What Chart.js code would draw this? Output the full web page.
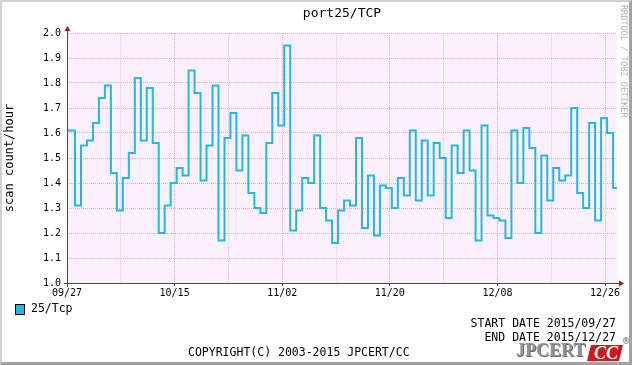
<!DOCTYPE html>
<html>
<head>
<meta charset="utf-8">
<script src="https://cdn.jsdelivr.net/npm/chart.js@4.4.1/dist/chart.umd.min.js"></script>
<style>
  html, body { margin: 0; padding: 0; background: #fff; }
  #wrap { position: relative; width: 632px; height: 365px; overflow: hidden; font-family: "DejaVu Sans Mono", monospace; }
  #box { position: absolute; left: 0; top: 0; width: 632px; height: 365px; }
  #frame { position: absolute; left: 0; top: 0; width: 632px; height: 365px; box-sizing: border-box;
           border-top: 2px solid #d0d0d0; border-left: 2px solid #d0d0d0;
           border-right: 3px solid #a2a2a2; border-bottom: 3px solid #a2a2a2; pointer-events: none; }
  .txt { position: absolute; font-size: 11.5px; line-height: 14px; color: #000; white-space: pre; }
  #legSwatch { position: absolute; left: 15px; top: 304px; width: 8px; height: 9px; background: #21b9df; border: 1px solid #000; }
  #rrd { position: absolute; left: 619px; top: 5px; writing-mode: vertical-rl; font-size: 8.5px; color: #b4b4b4; white-space: pre; }
  #jp { position: absolute; left: 516px; top: 340px; font-family: "Liberation Serif", serif; font-weight: bold; font-size: 18px;
        line-height: 20px; color: #959595; text-shadow: 1px 1px 0 #6a6a6a; }
  #cc { position: absolute; left: 589px; top: 345px; width: 32px; height: 16px; background: #d3161c; transform: skewX(-14deg); }
  #ccText { position: absolute; left: 590px; top: 343px; width: 32px; text-align: center; font-family: "Liberation Serif", serif;
            font-weight: bold; font-style: italic; font-size: 18px; line-height: 20px; color: #fff; }
  #reg { position: absolute; left: 622px; top: 337px; font-size: 8px; color: #555; font-family: "DejaVu Sans", sans-serif; }
</style>
</head>
<body>
<div id="wrap">
  <div id="box"><canvas id="chart"></canvas></div>
  <div id="legSwatch"></div>
  <div class="txt" style="left:31px; top:301px;">25/Tcp</div>
  <div class="txt" style="right:16px; top:316px;">START DATE 2015/09/27</div>
  <div class="txt" style="right:16px; top:330px;">END DATE 2015/12/27</div>
  <div class="txt" style="left:188px; top:345px;">COPYRIGHT(C) 2003-2015 JPCERT/CC</div>
  <div id="rrd">RRDTOOL / TOBI OETIKER</div>
  <div id="jp">JPCERT</div>
  <div id="cc"></div>
  <div id="ccText">CC</div>
  <div id="reg">®</div>
  <div id="frame"></div>
</div>
<script>
// daily scan counts per hour, 2015/09/27 - 2015/12/27
const counts = [
  1.61, 1.31, 1.55, 1.57, 1.64, 1.74, 1.79, 1.44, 1.29, 1.42,
  1.52, 1.82, 1.57, 1.78, 1.56, 1.20, 1.31, 1.40, 1.46, 1.43,
  1.85, 1.76, 1.41, 1.55, 1.79, 1.17, 1.58, 1.68, 1.45, 1.59,
  1.36, 1.30, 1.28, 1.56, 1.76, 1.63, 1.95, 1.21, 1.29, 1.42,
  1.40, 1.59, 1.30, 1.25, 1.16, 1.29, 1.33, 1.31, 1.58, 1.22,
  1.43, 1.19, 1.39, 1.38, 1.30, 1.42, 1.35, 1.61, 1.33, 1.57,
  1.35, 1.56, 1.50, 1.26, 1.55, 1.44, 1.61, 1.45, 1.17, 1.63,
  1.27, 1.26, 1.25, 1.18, 1.61, 1.40, 1.62, 1.54, 1.20, 1.51,
  1.33, 1.46, 1.41, 1.43, 1.70, 1.36, 1.30, 1.64, 1.25, 1.66,
  1.60, 1.38
];
const dateLabels = ["09/27", "10/15", "11/02", "11/20", "12/08", "12/26"];
const yTicks = [1.0, 1.1, 1.2, 1.3, 1.4, 1.5, 1.6, 1.7, 1.8, 1.9, 2.0];

const totalDays = 92;
const dayShift = 0.34; // rrd days are UTC, graph is JST

// each value starts at its day boundary and holds until the next one
const points = counts.map((v, i) => ({ x: i === 0 ? 0 : i + dayShift, y: v }));
points.push({ x: totalDays, y: counts[counts.length - 1] });

const mono = "'DejaVu Sans Mono', monospace";

const plotFrame = {
  id: "plotFrame",
  beforeDraw(chart) {
    const { ctx, chartArea: a } = chart;
    ctx.save();
    ctx.fillStyle = "#fdf0fc";
    ctx.fillRect(a.left, a.top, a.right - a.left, a.bottom - a.top);
    ctx.restore();
  },
  afterDraw(chart) {
    const { ctx, chartArea: a } = chart;
    const x0 = a.left + 0.5;
    const y0 = a.bottom + 0.5;
    ctx.save();
    ctx.strokeStyle = "#4a4a4a";
    ctx.lineWidth = 1;
    ctx.beginPath();
    ctx.moveTo(x0, a.top - 3);
    ctx.lineTo(x0, a.bottom + 4);
    ctx.moveTo(a.left - 3, y0);
    ctx.lineTo(a.right + 2, y0);
    ctx.stroke();

    ctx.fillStyle = "#9b1c1c";
    ctx.beginPath();
    ctx.moveTo(x0, a.top - 7);
    ctx.lineTo(x0 - 3, a.top - 2);
    ctx.lineTo(x0 + 3, a.top - 2);
    ctx.closePath();
    ctx.fill();
    ctx.beginPath();
    ctx.moveTo(a.right + 7, y0);
    ctx.lineTo(a.right + 2, y0 - 3);
    ctx.lineTo(a.right + 2, y0 + 3);
    ctx.closePath();
    ctx.fill();
    ctx.restore();
  }
};

new Chart(document.getElementById("chart"), {
  type: "line",
  data: {
    datasets: [
      {
        label: "25/Tcp",
        data: points,
        borderColor: "#21b9df",
        backgroundColor: "#21b9df",
        borderWidth: 2,
        pointRadius: 0,
        fill: false,
        stepped: "before",
        tension: 0
      }
    ]
  },
  options: {
    responsive: true,
    maintainAspectRatio: false,
    animation: false,
    layout: { padding: { left: 0, top: 0, right: 15, bottom: 0 } },
    plugins: {
      legend: { display: false },
      tooltip: { enabled: false },
      title: {
        display: true,
        text: "port25/TCP",
        fullSize: false,
        color: "#000",
        font: { family: mono, size: 13, weight: "normal" },
        padding: { top: 6, bottom: 11.4 }
      }
    },
    scales: {
      x: {
        type: "linear",
        min: 0,
        max: totalDays,
        afterFit(scale) { scale.height = 82; },
        border: { display: false, dash: [1, 1] },
        grid: {
          color: (c) => (c.tick && c.tick.value % 18 === 0 ? "#eaa8b0" : "#e2c6e0"),
          lineWidth: 1,
          drawTicks: true,
          tickLength: 3,
          tickColor: (c) => (c.tick && c.tick.value % 18 === 0 ? "#555" : "rgba(0,0,0,0)"),
          tickBorderDash: []
        },
        ticks: {
          stepSize: 9,
          includeBounds: false,
          autoSkip: false,
          maxRotation: 0,
          padding: 1,
          color: "#000",
          font: { family: mono, size: 10 },
          callback: (v) => (v % 18 === 0 ? dateLabels[v / 18] : "")
        }
      },
      y: {
        min: yTicks[0],
        max: yTicks[yTicks.length - 1],
        afterFit(scale) { scale.width = 67; },
        border: { display: false, dash: [1, 1] },
        grid: { color: "#eaa8b0", lineWidth: 1, drawTicks: false },
        ticks: {
          stepSize: 0.1,
          padding: 6,
          color: "#000",
          font: { family: mono, size: 10 },
          callback: (v) => Number(v).toFixed(1)
        },
        title: {
          display: true,
          text: "scan count/hour",
          color: "#000",
          font: { family: mono, size: 12 },
          padding: { top: 3, bottom: 0 }
        }
      }
    }
  },
  plugins: [plotFrame]
});
</script>
</body>
</html>
